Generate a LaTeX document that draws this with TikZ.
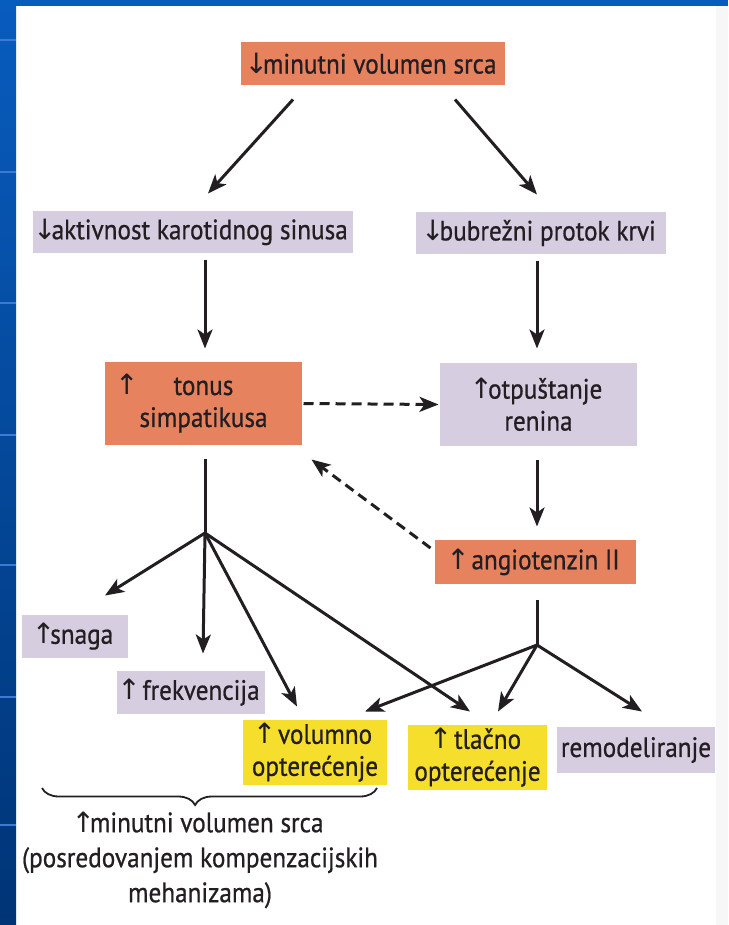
\documentclass[tikz,border=0pt]{standalone}
\usepackage{fontspec}
\setmainfont{PT Sans}[FakeStretch=0.9,FakeBold=0.7]
\newfontfamily\arrowfont{DejaVu Sans}
\usepackage{tikz}
\usetikzlibrary{arrows.meta,decorations.pathreplacing}
\newcommand{\upar}{{\arrowfont\fontsize{28}{28}\selectfont\kern-5pt↑\kern-5pt}}
\newcommand{\downar}{{\arrowfont\fontsize{28}{28}\selectfont\kern-5pt↓\kern-5pt}}
\tikzstyle{box}=[inner sep=0pt,text=textdark,font=\fontsize{28}{32}\selectfont,align=center]
\tikzstyle{orangebox}=[box,fill=boxorange]
\tikzstyle{lilacbox}=[box,fill=boxlilac]
\tikzstyle{yellowbox}=[box,fill=boxyellow]
\tikzstyle{captext}=[inner sep=0pt,text=textdark,font=\fontsize{28}{35}\selectfont,align=center]
\tikzstyle{dashline}=[dash pattern=on 10pt off 6pt]
\tikzstyle{brace}=[decorate,decoration={brace,mirror,amplitude=17pt,aspect=0.457},line width=1.8pt]
\definecolor{boxorange}{RGB}{230,130,94}
\definecolor{boxlilac}{RGB}{215,205,224}
\definecolor{boxyellow}{RGB}{246,222,44}
\definecolor{textdark}{RGB}{34,30,34}
\definecolor{slidetop}{RGB}{8,92,190}
\definecolor{slidebottom}{RGB}{0,52,118}
\definecolor{slidestripe}{RGB}{60,122,212}

\begin{document}
\begin{tikzpicture}[x=1pt,y=-1pt,line width=3pt,draw=textdark,>={Stealth[length=19pt,width=15pt,inset=5pt]}]
\useasboundingbox (0,0) rectangle (728,925);
\fill[white] (0,0) rectangle (728,925);
\fill[gray!6] (716,0) rectangle (728,925);
\shade[top color=slidetop,bottom color=slidebottom] (0,0) rectangle (16,925);
\fill[slidetop] (0,0) rectangle (728,6);
\foreach \y in {40,172,303,435,565,697,825}
  \draw[slidestripe,line width=2pt] (0,\y) -- (16,\y);

\draw (373,63.5) node [orangebox,minimum width=264pt,minimum height=43pt] (msrca) {\downar minutni volumen srca};
\draw (193,232) node [lilacbox,minimum width=320pt,minimum height=42pt] (akt) {\downar aktivnost karotidnog sinusa};
\draw (541,233) node [lilacbox,minimum width=250pt,minimum height=42pt] (bub) {\downar bubrežni protok krvi};
\draw (203.5,403.5) node [orangebox,minimum width=197pt,minimum height=83pt] (ton) {\llap{\upar\hspace{40pt}}tonus\\simpatikusa};
\draw (538.5,404.5) node [lilacbox,minimum width=197pt,minimum height=83pt] (ren) {\upar otpuštanje\\renina};
\draw (535.5,562) node [orangebox,minimum width=201pt,minimum height=44pt] (ang) {\upar\ angiotenzin II};
\draw (75,636.5) node [lilacbox,minimum width=106pt,minimum height=43pt] (sna) {\upar snaga};
\draw (191,692.5) node [lilacbox,minimum width=148pt,minimum height=43pt] (fre) {\upar\ frekvencija};
\draw (315,752.5) node [yellowbox,minimum width=144pt,minimum height=65pt] (vol) {\upar\ volumno\\opterećenje};
\draw (477.5,757.5) node [yellowbox,minimum width=139pt,minimum height=65pt] (tla) {\upar\ tlačno\\opterećenje};
\draw (636,750) node [lilacbox,minimum width=158pt,minimum height=46pt] (rem) {remodeliranje};
\draw (200,860) node [captext] (komp) {\upar minutni volumen srca\\(posredovanjem kompenzacijskih\\mehanizama)};

\coordinate (jt) at (205,533);
\coordinate (ja) at (537,645);
\coordinate (bl) at (42,788);
\coordinate (br) at (377,788);

\draw[->] ([xshift=-80pt,yshift=-13pt]msrca.south) -- ([xshift=15pt,yshift=16pt]akt.north);
\draw[->] ([xshift=82pt,yshift=-13pt]msrca.south) -- ([xshift=-4pt,yshift=16pt]bub.north);
\draw[->] ([xshift=12pt,yshift=-5pt]akt.south) -- ([xshift=1.5pt,yshift=12pt]ton.north);
\draw[->] ([xshift=-4pt,yshift=-5pt]bub.south) -- ([xshift=-1.5pt,yshift=13pt]ren.north);
\draw[->,dashline] (ton.east) -- (ren.west);
\draw[->] ([xshift=-1.5pt,yshift=-12pt]ren.south) -- ([xshift=1.5pt,yshift=12pt]ang.north);
\draw[->,dashline] ([xshift=-3pt,yshift=14pt]ang.west) -- ([xshift=8pt,yshift=-13pt]ton.south east);

\draw ([xshift=1.5pt,yshift=-12pt]ton.south) -- (jt);
\draw[->] (jt) -- ([xshift=30pt,yshift=18pt]sna.north);
\draw[->] (jt) -- ([xshift=12pt,yshift=16pt]fre.north);
\draw[->] (jt) -- ([xshift=-18pt,yshift=12pt]vol.north);
\draw[->] (jt) -- ([xshift=-7.5pt,yshift=12pt]tla.north);

\draw ([xshift=1.5pt,yshift=-14pt]ang.south) -- (ja);
\draw[->] (ja) -- ([xshift=50pt,yshift=7pt]vol.north);
\draw[->] (ja) -- ([xshift=20.5pt,yshift=12pt]tla.north);
\draw[->] (ja) -- ([xshift=6pt,yshift=14pt]rem.north);

\draw[brace] (bl) -- (br);
\end{tikzpicture}
\end{document}
